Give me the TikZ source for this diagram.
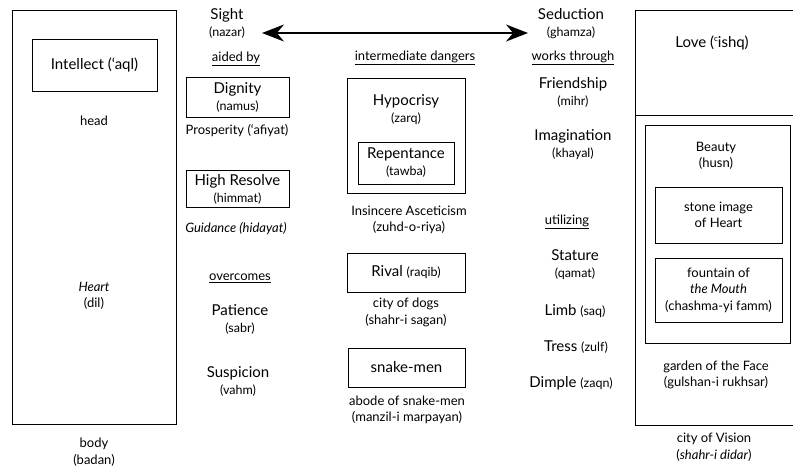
\documentclass[tikz,border=0pt]{standalone}
\usepackage{fontspec}
\setmainfont{Lato}
\usetikzlibrary{arrows.meta}
\newcommand\bigsz{\fontsize{15}{17}\selectfont}
\newcommand\midsz{\fontsize{13}{16.5}\selectfont}
\newcommand\smsz{\fontsize{12.5}{17}\selectfont}
\begin{document}
\begin{tikzpicture}[x=1pt,y=-1pt,
  box/.style={draw, line width=0.8pt, inner sep=0pt},
  lbl/.style={align=center, inner sep=0pt, font=\bigsz},
  mlbl/.style={align=center, inner sep=0pt, font=\midsz},
  ul/.style={align=center, inner sep=0pt, font=\midsz}]
\useasboundingbox (0,0) rectangle (793,467);
% ---------- left box
\node[box, minimum width=164pt, minimum height=414pt] (body) at (94,217) {};
\node[box, minimum width=125pt, minimum height=52pt, font=\bigsz] (intellect) at (94.5,65) {Intellect (‘aql)};
\node[mlbl] (head) at (94,121) {head};
\node[mlbl] (heart) at (94,296) {\textit{Heart}\\(dil)};
\node[mlbl] (bodylbl) at (94,452) {body\\(badan)};
% ---------- Sight column
\node[lbl] (sight) at (227,23.5) {Sight\\{\smsz (nazar)}};
\node[ul] (aided) at (236,59) {\underline{aided by}};
\node[box, minimum width=103pt, minimum height=40pt, lbl] (dignity) at (237.5,97.5) {Dignity\\{\smsz (namus)}};
\node[mlbl] (prosp) at (237,131) {Prosperity (‘afiyat)};
\node[box, minimum width=103pt, minimum height=37pt, lbl] (resolve) at (237.5,189) {High Resolve\\{\smsz (himmat)}};
\node[mlbl] (guid) at (236,229) {\textit{Guidance (hidayat)}};
\node[ul] (overc) at (240,278) {\underline{overcomes}};
\node[lbl] (patience) at (240,319) {Patience\\{\smsz (sabr)}};
\node[lbl] (suspicion) at (238,381) {Suspicion\\{\smsz (vahm)}};
% ---------- intermediate dangers
\node[ul] (inter) at (415,58) {\underline{intermediate dangers}};
\node[box, minimum width=118pt, minimum height=115pt] (hypbox) at (406,135.5) {};
\node[lbl] (hyp) at (406,110) {Hypocrisy\\{\smsz (zarq)}};
\node[box, minimum width=96pt, minimum height=42pt, lbl] (repent) at (406,163) {Repentance\\{\smsz (tawba)}};
\node[mlbl] (insinc) at (409,220) {Insincere Asceticism\\(zuhd-o-riya)};
\node[box, minimum width=118pt, minimum height=39pt, font=\bigsz] (rival) at (406,272.5) {Rival {\smsz (raqib)}};
\node[mlbl] (dogs) at (406,312.5) {city of dogs\\(shahr-i sagan)};
\node[box, minimum width=117pt, minimum height=39pt, font=\bigsz] (snake) at (406.5,367.5) {snake-men};
\node[mlbl] (abode) at (407,410) {abode of snake-men\\(manzil-i marpayan)};
% ---------- Seduction column
\node[lbl] (seduction) at (571,23.5) {Seduction\\{\smsz (ghamza)}};
\node[ul] (works) at (573,58) {\underline{works through}};
\node[lbl] (friend) at (573,92.5) {Friendship\\{\smsz (mihr)}};
\node[lbl] (imag) at (573,145) {Imagination\\{\smsz (khayal)}};
\node[ul] (util) at (567,222) {\underline{utilizing}};
\node[lbl] (stature) at (575,265) {Stature\\{\smsz (qamat)}};
\node[lbl] (limb) at (575,311) {Limb {\smsz (saq)}};
\node[lbl] (tress) at (576,347) {Tress {\smsz (zulf)}};
\node[lbl] (dimple) at (571,383) {Dimple {\smsz (zaqn)}};
% ---------- arrow
\coordinate (aL) at (262,33);
\coordinate (aR) at (528,33);
\draw[line width=1.8pt, {Stealth[length=22pt,width=17pt]}-{Stealth[length=22pt,width=17pt]}] (aL) -- (aR);
% ---------- right box
\coordinate (rTR) at (794,10);
\coordinate (rTL) at (635,10);
\coordinate (rBL) at (635,425);
\coordinate (rBR) at (794,425);
\coordinate (dL) at (635,115);
\coordinate (dR) at (794,115);
\draw[line width=0.8pt] (rTR) -- (rTL) -- (rBL) -- (rBR);
\draw[line width=0.8pt] (dL) -- (dR);
\node[font=\bigsz, inner sep=0pt] (love) at (712,43) {Love (\raisebox{0.75ex}{\fontsize{8}{8}\selectfont c}ishq)};
\node[box, minimum width=145pt, minimum height=218pt] (beautybox) at (717.5,234) {};
\node[mlbl] (beauty) at (716,156) {Beauty\\(husn)};
\node[box, minimum width=127pt, minimum height=56pt, mlbl] (stone) at (718.5,215) {stone image\\of Heart};
\node[box, minimum width=127pt, minimum height=64pt, mlbl] (fountain) at (718.5,290) {fountain of\\\textit{the Mouth}\\(chashma-yi famm)};
\node[mlbl] (garden) at (716,375) {garden of the Face\\(gulshan-i rukhsar)};
\node[mlbl] (city) at (714,447) {city of Vision\\(\textit{shahr-i didar})};
\end{tikzpicture}
\end{document}
